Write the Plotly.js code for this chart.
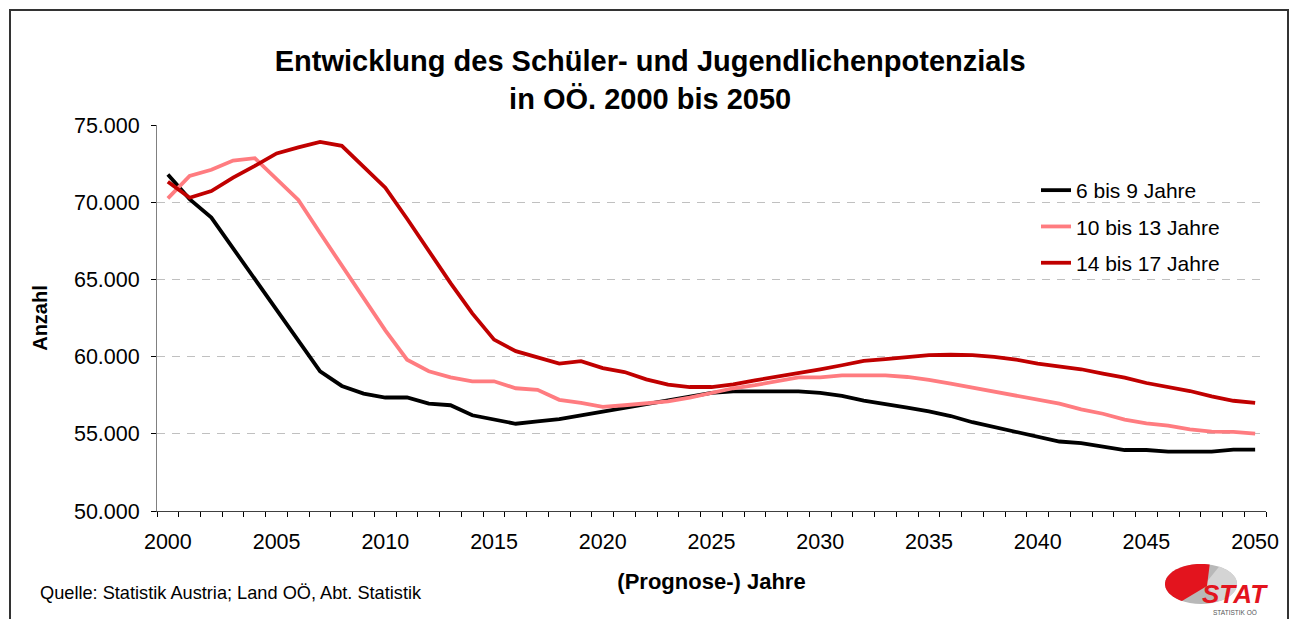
<!DOCTYPE html>
<html>
<head>
<meta charset="utf-8">
<script src="https://cdn.plot.ly/plotly-3.0.1.min.js"></script>
<style>
html,body{margin:0;padding:0;background:#fff;}
#chart{width:1290px;height:619px;}
</style>
</head>
<body>
<div id="chart"></div>
<script>
// ---- Data ----
const years = [2000,2001,2002,2003,2004,2005,2006,2007,2008,2009,
               2010,2011,2012,2013,2014,2015,2016,2017,2018,2019,
               2020,2021,2022,2023,2024,2025,2026,2027,2028,2029,
               2030,2031,2032,2033,2034,2035,2036,2037,2038,2039,
               2040,2041,2042,2043,2044,2045,2046,2047,2048,2049,2050];

const age6to9 = [71800,70200,69000,67000,65000,63000,61000,59050,58100,57600,
                 57350,57350,56950,56850,56200,55950,55650,55800,55950,56200,
                 56450,56700,56900,57150,57450,57650,57750,57750,57750,57750,
                 57650,57450,57150,56950,56700,56450,56150,55750,55450,55100,
                 54850,54500,54400,54150,53950,53950,53850,53850,53850,53980,53980];

const age10to13 = [70250,71700,72100,72700,72850,71500,70150,68000,65900,63700,
                   61700,59800,59050,58650,58400,58400,57950,57850,57200,57000,
                   56750,56850,56950,57100,57350,57650,57950,58150,58400,58650,
                   58650,58780,58780,58780,58680,58500,58250,57990,57700,57440,
                   57200,56950,56580,56300,55920,55680,55530,55290,55140,55120,55010];

const age14to17 = [71330,70290,70720,71590,72350,73160,73550,73910,73650,72280,
                   70940,68930,66840,64760,62800,61100,60350,59940,59550,59700,
                   59260,59000,58530,58180,58030,58030,58200,58460,58680,58940,
                   59180,59440,59720,59830,59980,60100,60120,60100,59980,59810,
                   59550,59390,59180,58900,58640,58290,58030,57770,57420,57140,57000];

const seriesNames = ["6 bis 9 Jahre", "10 bis 13 Jahre", "14 bis 17 Jahre"];
const xTickVals = [2000,2005,2010,2015,2020,2025,2030,2035,2040,2045,2050];
const yTickVals = [50000,55000,60000,65000,70000,75000];

const titleText = "Entwicklung des Schüler- und Jugendlichenpotenzials<br>in OÖ. 2000 bis 2050";
const xTitle = "(Prognose-) Jahre";
const yTitle = "Anzahl";
const sourceText = "Quelle: Statistik Austria; Land OÖ, Abt. Statistik";

// ---- Layout geometry ----
const W = 1290, H = 619;
const M = {l:157, r:24, t:125, b:108};
const PW = W - M.l - M.r, PH = H - M.t - M.b;
const px2x = p => (p - M.l) / PW;
const px2y = p => (H - M.b - p) / PH;

const FONT = '"Liberation Sans", Arial, sans-serif';
const colors = ['#000000', '#FF7C80', '#C00000'];

const traces = [age6to9, age10to13, age14to17].map((vals, i) => ({
  type: 'scatter', mode: 'lines',
  x: years, y: vals, name: seriesNames[i],
  legendgroup: 'g' + i,
  line: {color: colors[i], width: 3.8},
  hoverinfo: 'skip'
}));

// Logo: ellipse with red sector (decoration)
const cx = 1201, cy = 584, rx = 36, ry = 20;
function ellPath(a0, a1, closeTo) {
  let d = '';
  const n = 40;
  for (let k = 0; k <= n; k++) {
    const a = (a0 + (a1 - a0) * k / n) * Math.PI / 180;
    const X = px2x(cx + rx * Math.cos(a));
    const Y = px2y(cy - ry * Math.sin(a));
    d += (k === 0 ? 'M' : 'L') + X.toFixed(5) + ',' + Y.toFixed(5);
  }
  if (closeTo) d += 'L' + px2x(closeTo[0]).toFixed(5) + ',' + px2y(closeTo[1]).toFixed(5);
  return d + 'Z';
}

const shapes = [
  // outer frame
  {type:'rect', xref:'paper', yref:'paper',
   x0: px2x(10), x1: px2x(1288), y0: px2y(640), y1: px2y(10),
   line:{color:'#333333', width:2}, fillcolor:'rgba(0,0,0,0)', layer:'below'},
  // logo gray ellipse
  {type:'path', xref:'paper', yref:'paper', path: ellPath(0, 360),
   fillcolor:'#b8b8b8', line:{width:0}},
  {type:'path', xref:'paper', yref:'paper', path: ellPath(-60, 60, [cx+4, cy]),
   fillcolor:'#d4d4d4', line:{width:0}},
  // logo red sector
  {type:'path', xref:'paper', yref:'paper', path: ellPath(76, 238, [cx+6, cy+2]),
   fillcolor:'#e3141e', line:{width:0}}
];

const annotations = [
  {xref:'paper', yref:'paper', x: px2x(38), y: px2y(593), xanchor:'left', yanchor:'middle',
   text: sourceText, showarrow:false, font:{family:FONT, size:18.2, color:'#000'}},
  {xref:'paper', yref:'paper', x: px2x(1235), y: px2y(594), xanchor:'center', yanchor:'middle',
   text: '<b><i>STAT</i></b>', showarrow:false, font:{family:FONT, size:26, color:'#e3141e'}},
  {xref:'paper', yref:'paper', x: px2x(1235), y: px2y(612), xanchor:'center', yanchor:'middle',
   text: 'STATISTIK OÖ', showarrow:false, font:{family:FONT, size:6.5, color:'#555'}}
];

const layout = {
  width: W, height: H,
  margin: M,
  paper_bgcolor: '#ffffff', plot_bgcolor: '#ffffff',
  separators: ',.',
  font: {family: FONT, color: '#000'},
  title: {
    text: '<b>' + titleText + '</b>',
    font: {family: FONT, size: 29, color: '#000'},
    x: 0.504, xanchor: 'center', xref: 'container',
    y: 1 - 71 / H, yanchor: 'top', yref: 'container'
  },
  xaxis: {
    range: [1999.5, 2050.5],
    tickmode: 'array', tickvals: xTickVals, ticktext: xTickVals.map(String),
    ticks: 'outside', ticklen: 11, tickcolor: 'rgba(0,0,0,0)',
    tickfont: {family: FONT, size: 21.5, color: '#000'},
    showgrid: false, zeroline: false,
    showline: true, linecolor: '#404040', linewidth: 1,
    minor: {tickmode: 'linear', tick0: 1999.5, dtick: 1, ticks: 'outside',
            ticklen: 5, tickcolor: '#000', tickwidth: 1, showgrid: false},
    title: {text: '<b>' + xTitle + '</b>', font: {family: FONT, size: 22, color: '#000'}, standoff: 20},
    automargin: false, fixedrange: true
  },
  yaxis: {
    range: [50000, 75000],
    tickmode: 'array', tickvals: yTickVals,
    tickformat: ',.0f',
    ticks: 'outside', ticklen: 5, tickcolor: '#000', tickwidth: 1,
    ticklabelstandoff: 7,
    tickfont: {family: FONT, size: 21.5, color: '#000'},
    showgrid: true, gridcolor: '#c0c0c0', gridwidth: 1, griddash: '8px,7px',
    zeroline: false,
    showline: true, linecolor: '#808080', linewidth: 1,
    title: {text: '<b>' + yTitle + '</b>', font: {family: FONT, size: 20, color: '#000'}, standoff: 20},
    automargin: false, fixedrange: true
  },
  legend: {
    x: px2x(1036), xanchor: 'left', y: px2y(170), yanchor: 'top',
    bgcolor: 'rgba(255,255,255,0)', borderwidth: 0,
    font: {family: FONT, size: 21, color: '#000'},
    tracegroupgap: 6
  },
  showlegend: true,
  shapes: shapes,
  annotations: annotations
};

Plotly.newPlot('chart', traces, layout, {staticPlot: true, displayModeBar: false});
</script>
</body>
</html>
